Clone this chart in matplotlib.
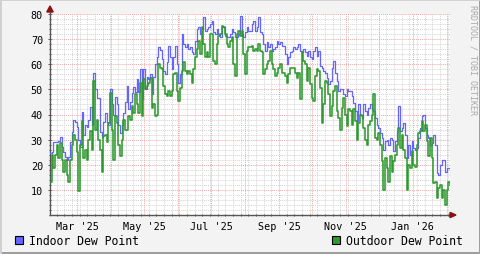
import numpy as np
import pandas as pd
import matplotlib
matplotlib.use("Agg")
import matplotlib.pyplot as plt
import matplotlib.dates as mdates
from matplotlib.patches import Rectangle, Polygon

# ---- data (~1.5 day steps) ----
start_date = "2025-02-04"
end_date = "2026-02-04"

indoor = [
    # Feb - early Mar
    24.7, 25, 29, 29, 29, 29.5, 31, 27, 25, 23, 22, 23, 29, 33, 38, 37, 35, 30, 27, 41,
    32, 36, 35, 38, 43, 36, 56.7, 50, 46.7, 46.7,
    # Mar - Apr
    33, 31, 37, 40.7, 37, 36, 50, 44, 40, 47, 44, 36, 32.7, 36, 40.7, 45, 51.3, 42, 45, 48.7,
    51, 49, 54, 49, 58, 46, 58, 50, 55, 54,
    # May - Jun
    56, 48, 55, 60, 62.7, 66.7, 65.5, 62, 57.3, 56, 60.7, 67.3, 62.7, 58, 62.7, 67.3, 60, 52.7, 56, 72,
    68, 66.7, 68, 66, 66.7, 65, 64, 69.3, 74, 74.7,
    # Jul
    72, 74, 79, 73.3, 74, 74.7, 76, 77.3, 72.7, 72, 74, 72, 70.7, 75.3, 74.7, 71.3, 71, 70.7, 72, 74,
    72.7, 71, 70.7, 72, 79.3, 72, 70.7, 72.7, 74.7, 73.3,
    # Aug - Sep
    73.3, 76, 77.3, 73.3, 74.7, 78.7, 72.7, 72, 68, 65.3, 68.7, 66.7, 68, 65.3, 66, 66.7, 69.3, 68, 68.7, 67.3,
    67.3, 64, 60, 62.7, 64.7, 65.3, 66.7, 66, 66.7, 68,
    # Sep - Oct
    65.3, 64.7, 66, 64.7, 63.3, 65.3, 62.7, 62, 65.3, 66.7, 63.3, 65.3, 59.3, 58.7, 57.3, 56.7, 54.7, 52, 53.3, 58.7,
    61.3, 56.7, 53.3, 49.3, 50, 50, 48, 47.3, 50, 49.3,
    # Nov - Dec
    49.3, 47.3, 44.7, 41.3, 37.3, 44, 40, 38.7, 44, 41.3, 40, 42.7, 44, 42, 41.3, 38.7, 36, 34.7, 32.7, 30.7,
    26, 29.3, 30, 28, 30.7, 30, 25.3, 29.3, 33.3, 43.3,
    # Dec - Feb
    33.3, 34.7, 36.7, 32, 22.7, 28, 24, 29.3, 26.7, 26, 26.7, 30.7, 34.7, 39.3, 40, 34.7, 32, 30.7, 28, 28.7,
    32, 28, 16.7, 16, 20, 22, 22, 17.3, 18.7, 18.7, 18,
]

outdoor = [
    13.3, 24, 18.7, 24, 28, 22.7, 28.7, 22, 17.3, 22, 16, 13.3, 22, 28, 32, 30, 25, 9.7, 28, 37.3,
    22.7, 26, 22, 30, 33.3, 26, 53.3, 34, 38, 30,
    26, 17.3, 31.3, 32, 29, 36.7, 48.7, 34, 22, 39.3, 36.7, 28, 23.3, 30, 38, 34, 34, 39.3, 38, 43.3,
    40.7, 48, 44, 40.7, 52.7, 39.3, 54, 50, 51.3, 52.7,
    54.7, 42.7, 44, 39.3, 40, 60, 58.7, 58, 51.3, 48, 47.3, 49.3, 47.3, 49.3, 56, 56.7, 49.3, 45.3, 50.7, 57.3,
    60.7, 57.3, 56, 57.3, 56, 52.7, 58, 62.7, 66, 69.3,
    64, 74.7, 68, 62.7, 64.7, 62.7, 72, 72, 61.3, 60, 68, 71.3, 72, 75.3, 74.7, 72, 68, 66.7, 69.3, 70.7,
    60, 55.3, 72, 73.3, 71.3, 73.3, 64, 56, 65.3, 66.7,
    66.7, 67.3, 65.3, 66, 65.3, 68, 65.3, 64.7, 56, 58, 60, 61.3, 65.3, 60, 58, 55.3, 56.7, 58.7, 60, 56.7,
    56.7, 55.3, 52.7, 56, 58.7, 58.7, 58.7, 56.7, 54.7, 56.7,
    46, 64.7, 61.3, 60, 53.3, 58.7, 52, 46.7, 45.3, 55.3, 58, 57.3, 50.7, 36.7, 44, 53.3, 52.7, 48, 39.3, 43.3,
    49.3, 51.3, 41.3, 38.7, 34, 42.7, 46.7, 40, 35.3, 42,
    41.3, 36, 42, 37.3, 30, 36.7, 40, 39.3, 34.7, 30, 28, 36, 37.3, 40, 48, 30.7, 30, 32.7, 28, 21.3,
    10, 22.7, 18.7, 13.3, 23.3, 17.3, 21.3, 24, 28, 34.7,
    26.7, 32, 26, 22.7, 10, 20, 18.7, 25.3, 20, 19.3, 28, 32.7, 33.3, 37.3, 33.3, 36, 29.3, 23.3, 30.7, 22.7,
    12.7, 13.3, 6.7, 10.7, 12, 6.7, 10, 4, 10, 13.3, 12,
]

legend_labels = ["Indoor Dew Point", "Outdoor Dew Point"]
y_ticks = [10, 20, 30, 40, 50, 60, 70, 80]

times = pd.date_range(start_date, end_date, periods=len(indoor))

# ---- style ----
W, H, DPI = 481, 255, 100
fig = plt.figure(figsize=(W / DPI, H / DPI), dpi=DPI)
fig.patch.set_facecolor("#F3F3F3")
mono = "DejaVu Sans Mono"

# frame shading
fig.patches.append(Rectangle((0, 0), 1, 1, transform=fig.transFigure, fill=False,
                             edgecolor="#CFCFCF", lw=2))
fig.patches.append(Rectangle((2 / W, 0), 1 - 2 / W, 2 / H, transform=fig.transFigure,
                             facecolor="#9E9E9E", edgecolor="none"))
fig.patches.append(Rectangle((1 - 2 / W, 0), 2 / W, 1 - 2 / H, transform=fig.transFigure,
                             facecolor="#9E9E9E", edgecolor="none"))

ax = fig.add_axes([50 / W, (H - 216) / H, 400 / W, 201 / H])
ax.set_facecolor("white")

blue = "#6464FF"
green = "#2F9A2F"
ax.plot(times, indoor, drawstyle="steps-post", color=blue, lw=0.9, zorder=3)
ax.plot(times, outdoor, drawstyle="steps-post", color=green, lw=1.15, zorder=4)

x0 = pd.Timestamp(start_date)
x1 = pd.Timestamp(end_date)
ax.set_xlim(x0, x1)
ax.set_ylim(0, 80)

# grid
ax.yaxis.set_major_locator(plt.FixedLocator(y_ticks))
ax.yaxis.set_minor_locator(plt.MultipleLocator(2))
ax.xaxis.set_major_locator(mdates.MonthLocator(bymonth=[3, 5, 7, 9, 11, 1]))
ax.xaxis.set_major_formatter(mdates.DateFormatter("%b '%y"))
ax.xaxis.set_minor_locator(mdates.WeekdayLocator(byweekday=mdates.MO))

ax.grid(which="minor", color="#D4D4D4", lw=0.7, ls=(0, (1, 1)), zorder=1)
for m in pd.date_range("2025-03-01", "2026-02-01", freq="MS"):
    ax.axvline(m, color="#EFA8A8", lw=0.7, ls=(0, (1, 1)), zorder=2)
for yv in y_ticks:
    ax.axhline(yv, color="#EFA8A8", lw=0.7, ls=(0, (1, 1)), zorder=2)

for s in ["top", "right"]:
    ax.spines[s].set_visible(False)
for s in ["left", "bottom"]:
    ax.spines[s].set_color("#555555")
    ax.spines[s].set_linewidth(1.0)

ax.tick_params(which="both", direction="inout", color="#555555", length=3, width=0.7,
               labelsize=7.3, labelcolor="#000000")
ax.tick_params(which="minor", length=2)
ax.tick_params(axis="x", which="major", length=0, pad=4)
for lab in ax.get_xticklabels() + ax.get_yticklabels():
    lab.set_fontfamily(mono)

# arrows
ax.add_patch(Polygon([[1.0, -0.013], [1.0, 0.013], [1.015, 0.0]], closed=True,
                     transform=ax.transAxes, clip_on=False, color="#8B1010", zorder=5))
ax.plot([1.0, 1.005], [0, 0], transform=ax.transAxes, color="#555555", lw=1, clip_on=False)
ax.add_patch(Polygon([[-0.008, 1.01], [0.008, 1.01], [0.0, 1.04]], closed=True,
                     transform=ax.transAxes, clip_on=False, color="#8B1010", zorder=5))
ax.plot([0, 0], [1.0, 1.012], transform=ax.transAxes, color="#555555", lw=1, clip_on=False)

# legend
def legend_item(xpx, color, text):
    fig.patches.append(Rectangle((xpx / W, (H - 245) / H), 8 / W, 8 / H,
                                 transform=fig.transFigure, facecolor=color,
                                 edgecolor="black", lw=0.8))
    fig.text((xpx + 14) / W, (H - 241.5) / H, text, fontsize=8.3, family=mono,
             va="center", ha="left", color="black")

legend_item(15, blue, legend_labels[0])
legend_item(332, green, legend_labels[1])

# watermark
fig.text(473 / W, (H - 60) / H, "RRDTOOL / TOBI OETIKER", rotation=270, fontsize=6,
         family=mono, color="#AAAAAA", ha="center", va="center")

fig.savefig("out.png", dpi=DPI, facecolor=fig.get_facecolor())
